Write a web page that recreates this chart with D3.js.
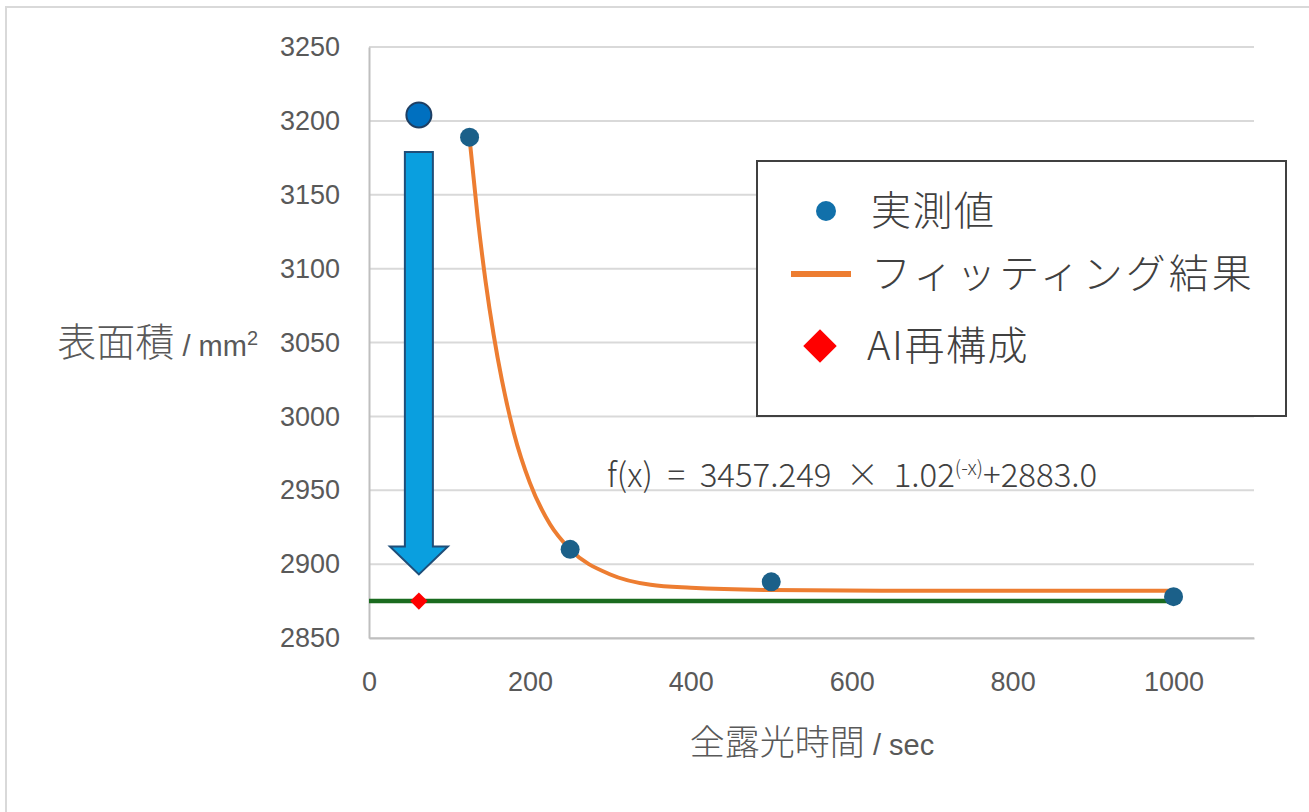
<!DOCTYPE html>
<html>
<head>
<meta charset="utf-8">
<script src="https://cdn.jsdelivr.net/npm/d3@7"></script>
<style>
  body { margin: 0; background: #fff; }
  .tick-label { font-family: "Liberation Sans", Arial, sans-serif; font-size: 27px; fill: #595959; }
  .jp { font-family: "Noto Sans CJK JP", sans-serif; font-weight: 300; }
  .lat { font-family: "Liberation Sans", Arial, sans-serif; }
</style>
</head>
<body>
<div id="chart"></div>
<script>
/* CONSTANTS */
const width = 1309,
  height = 812,
  margin = { top: 47, right: 55, bottom: 174, left: 369 };

/* DATA */
const xTicks = [0, 200, 400, 600, 800, 1000];
const yTicks = [2850, 2900, 2950, 3000, 3050, 3100, 3150, 3200, 3250];

// 実測値
const measuredX = [125, 250, 500, 1000];
const measuredY = [3189, 2910, 2888, 2878];

// フィッティング結果
const fitX = [125, 135, 145, 155, 165, 180, 200, 225, 250, 300, 350, 400, 500, 700, 1000];
const fitY = [3188, 3135, 3091, 3055, 3025, 2989, 2955, 2927, 2910, 2893, 2886, 2884, 2882.5, 2882, 2882];

// AI再構成
const aiX = [62];
const aiY = [2875];

// reference level (green) and the single large starting point
const levelX = [0, 1000];
const levelY = [2875, 2875];
const startX = [62];
const startY = [3204];

// arrow: top of shaft, start of head, tip
const arrowX = 62;
const arrowY = [3179, 2912, 2893];

const legendLabels = ["実測値", "フィッティング結果", "AI再構成"];

/* SCALES */
const xScale = d3.scaleLinear().domain([0, 1100]).range([margin.left, width - margin.right]);
const yScale = d3.scaleLinear().domain([2850, 3250]).range([height - margin.bottom, margin.top]);

const svg = d3.select("#chart")
  .append("svg")
  .attr("width", width)
  .attr("height", height);

// outer chart frame (runs off the page on the right and bottom)
svg.append("rect")
  .attr("x", 6).attr("y", 7)
  .attr("width", width + 20).attr("height", height + 20)
  .attr("fill", "none")
  .attr("stroke", "#d9d9d9")
  .attr("stroke-width", 2);

// gridlines
svg.append("g")
  .selectAll("line")
  .data(yTicks)
  .join("line")
  .attr("x1", xScale(0))
  .attr("x2", xScale(1100))
  .attr("y1", d => yScale(d))
  .attr("y2", d => yScale(d))
  .attr("stroke", "#d9d9d9")
  .attr("stroke-width", 2);

// axes
const yAxis = d3.axisLeft(yScale).tickValues(yTicks).tickSize(0).tickPadding(29).tickFormat(d3.format("d"));
const xAxis = d3.axisBottom(xScale).tickValues(xTicks).tickSize(0).tickPadding(34).tickFormat(d3.format("d"));

svg.append("g")
  .attr("class", "axis y-axis")
  .attr("transform", `translate(${xScale(0)},0)`)
  .call(yAxis)
  .call(g => g.select(".domain").attr("stroke", "#bfbfbf").attr("stroke-width", 2))
  .call(g => g.selectAll("text").attr("class", "tick-label").attr("fill", null));

svg.append("g")
  .attr("class", "axis x-axis")
  .attr("transform", `translate(0,${yScale(2850)})`)
  .call(xAxis)
  .call(g => g.select(".domain").attr("stroke", "#bfbfbf").attr("stroke-width", 2))
  .call(g => g.selectAll("text").attr("class", "tick-label").attr("fill", null));

// axis titles
const yTitle = svg.append("text")
  .attr("x", 258)
  .attr("y", 356)
  .attr("text-anchor", "end")
  .attr("fill", "#595959");
yTitle.append("tspan").attr("class", "jp").attr("font-size", 39).text("表面積");
yTitle.append("tspan").attr("class", "lat").attr("font-size", 29).text(" / mm");
yTitle.append("tspan").attr("class", "lat").attr("font-size", 20).attr("dy", -11).text("2");

const xTitle = svg.append("text")
  .attr("x", 812)
  .attr("y", 755)
  .attr("text-anchor", "middle")
  .attr("fill", "#595959");
xTitle.append("tspan").attr("class", "jp").attr("font-size", 35).text("全露光時間");
xTitle.append("tspan").attr("class", "lat").attr("font-size", 29).text(" / sec");

// green level line
const line = d3.line().x(d => xScale(d[0])).y(d => yScale(d[1]));
svg.append("path")
  .datum(levelX.map((x, i) => [x, levelY[i]]))
  .attr("d", line)
  .attr("fill", "none")
  .attr("stroke", "#1a6b1f")
  .attr("stroke-width", 4.5);

// fitted curve
const fitLine = d3.line()
  .x(d => xScale(d[0]))
  .y(d => yScale(d[1]))
  .curve(d3.curveMonotoneX);
svg.append("path")
  .datum(fitX.map((x, i) => [x, fitY[i]]))
  .attr("d", fitLine)
  .attr("fill", "none")
  .attr("stroke", "#ed7d31")
  .attr("stroke-width", 4);

// measured points
svg.append("g")
  .selectAll("circle")
  .data(measuredX.map((x, i) => ({ x, y: measuredY[i] })))
  .join("circle")
  .attr("cx", d => xScale(d.x))
  .attr("cy", d => yScale(d.y))
  .attr("r", 9.5)
  .attr("fill", "#1b6089");

// large starting point
svg.append("g")
  .selectAll("circle")
  .data(startX.map((x, i) => ({ x, y: startY[i] })))
  .join("circle")
  .attr("cx", d => xScale(d.x))
  .attr("cy", d => yScale(d.y))
  .attr("r", 12.5)
  .attr("fill", "#0070c0")
  .attr("stroke", "#1f3f63")
  .attr("stroke-width", 2);

// down arrow
const ax = xScale(arrowX),
  shaftHalf = 14,
  headHalf = 29;
const arrowPts = [
  [ax - shaftHalf, yScale(arrowY[0])],
  [ax + shaftHalf, yScale(arrowY[0])],
  [ax + shaftHalf, yScale(arrowY[1])],
  [ax + headHalf, yScale(arrowY[1])],
  [ax, yScale(arrowY[2])],
  [ax - headHalf, yScale(arrowY[1])],
  [ax - shaftHalf, yScale(arrowY[1])]
];
svg.append("path")
  .attr("d", "M" + arrowPts.join("L") + "Z")
  .attr("fill", "#0a9fdf")
  .attr("stroke", "#1f4e79")
  .attr("stroke-width", 2);

// AI reconstruction diamond
const diamond = d3.symbol().type(d3.symbolSquare).size(150);
svg.append("g")
  .selectAll("path")
  .data(aiX.map((x, i) => ({ x, y: aiY[i] })))
  .join("path")
  .attr("d", diamond)
  .attr("transform", d => `translate(${xScale(d.x)},${yScale(d.y)}) rotate(45)`)
  .attr("fill", "#ff0000");

// equation
const eq = svg.append("text")
  .attr("class", "jp")
  .attr("x", 607)
  .attr("y", 487)
  .attr("font-size", 33)
  .attr("fill", "#404040")
  .style("white-space", "pre");
eq.append("tspan").text("f(x)  =  3457.249  ×  1.02");
eq.append("tspan").attr("font-size", 20).attr("dy", -12).text("(-x)");
eq.append("tspan").attr("dy", 12).text("+2883.0");

// legend
const legend = svg.append("g").attr("transform", "translate(757,161)");
legend.append("rect")
  .attr("width", 529)
  .attr("height", 255)
  .attr("fill", "#fff")
  .attr("stroke", "#404040")
  .attr("stroke-width", 2);

const rowY = [50, 113, 185];
legend.append("circle").attr("cx", 69).attr("cy", rowY[0]).attr("r", 10).attr("fill", "#1170aa");
legend.append("line")
  .attr("x1", 34).attr("x2", 94)
  .attr("y1", rowY[1]).attr("y2", rowY[1])
  .attr("stroke", "#ed7d31").attr("stroke-width", 6);
legend.append("path")
  .attr("d", d3.symbol().type(d3.symbolSquare).size(560))
  .attr("transform", `translate(63,${rowY[2]}) rotate(45)`)
  .attr("fill", "#ff0000");

legend.selectAll("text.legend-label")
  .data(legendLabels)
  .join("text")
  .attr("class", "legend-label jp")
  .attr("x", (d, i) => (i === 2 ? 110 : 114))
  .attr("y", (d, i) => rowY[i])
  .attr("dy", "0.36em")
  .attr("font-size", 40)
  .attr("letter-spacing", (d, i) => (i === 1 ? 3 : 1.5))
  .attr("fill", "#404040")
  .text(d => d);
</script>
</body>
</html>
